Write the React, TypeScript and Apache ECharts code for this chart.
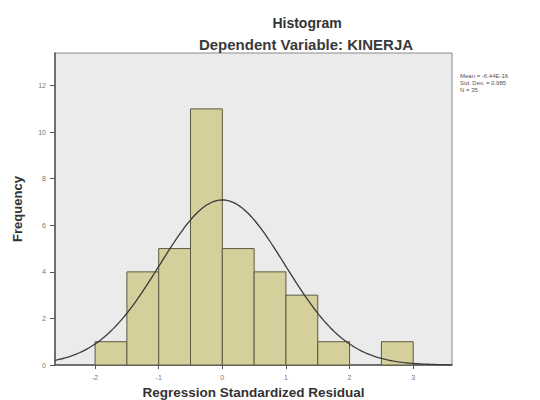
import React, { useEffect, useRef } from "react";
import * as echarts from "echarts";

const binStarts = [-2, -1.5, -1, -0.5, 0, 0.5, 1, 1.5, 2, 2.5];
const binWidth = 0.5;
const frequencies = [1, 4, 5, 11, 5, 4, 3, 1, 0, 1];
const xTicks = [-2, -1, 0, 1, 2, 3];
const yTicks = [0, 2, 4, 6, 8, 10, 12];
const statsLines = ["Mean = -6.44E-16", "Std. Dev. = 0.985", "N = 35"];
const mean = -6.44e-16;
const stdDev = 0.985;
const n = 35;
const xMin = -2.63;
const xMax = 3.61;

export default function App() {
  const ref = useRef<HTMLDivElement>(null);
  useEffect(() => {
    if (!ref.current) return;
    const chart = echarts.init(ref.current, undefined, { renderer: "svg" });
    const bars = binStarts.map((s, i) => [s, s + binWidth, frequencies[i]]);
    const curve: number[][] = [];
    const steps = 200;
    for (let i = 0; i <= steps; i++) {
      const x = xMin + ((xMax - xMin) * i) / steps;
      const z = (x - mean) / stdDev;
      const y = ((n * binWidth) / (stdDev * Math.sqrt(2 * Math.PI))) * Math.exp(-0.5 * z * z);
      curve.push([x, y]);
    }
    const font = "Liberation Sans, Arial, sans-serif";
    chart.setOption({
      animation: false,
      backgroundColor: "#ffffff",
      title: [
        {
          text: "Histogram",
          left: 302,
          top: 11,
          textAlign: "center",
          textStyle: { fontFamily: font, fontSize: 14, fontWeight: "bold", color: "#333" },
        },
        {
          text: "Dependent Variable: KINERJA",
          left: 301,
          top: 32,
          textAlign: "center",
          textStyle: { fontFamily: font, fontSize: 15, fontWeight: "bold", color: "#3a3a3a" },
        },
      ],
      graphic: [
        {
          type: "text",
          left: 460,
          top: 72,
          style: {
            text: statsLines.join("\n"),
            fontFamily: font,
            fontSize: 6,
            lineHeight: 7,
            fill: "#555",
          },
        },
      ],
      grid: {
        left: 55,
        right: 88,
        top: 53,
        bottom: 35,
        outerBoundsMode: "none",
        containLabel: false,
        show: true,
        backgroundColor: "#ebebeb",
        borderColor: "#8a8a8a",
        borderWidth: 1,
      },
      xAxis: {
        type: "value",
        min: xMin,
        max: xMax,
        name: "Regression Standardized Residual",
        nameLocation: "middle",
        nameGap: 19,
        nameTextStyle: { fontFamily: font, fontSize: 13.5, fontWeight: "bold", color: "#333" },
        splitLine: { show: false },
        axisLine: { show: true, onZero: false, lineStyle: { color: "#555", width: 1.5 } },
        axisTick: { show: true, customValues: xTicks, length: 4, lineStyle: { color: "#555" } },
        axisLabel: {
          customValues: xTicks,
          fontFamily: font,
          fontSize: 7,
          color: "#777",
          margin: 9,
        },
      },
      yAxis: {
        type: "value",
        min: 0,
        max: 13.4,
        name: "Frequency",
        nameLocation: "middle",
        nameGap: 31,
        nameRotate: 90,
        nameTextStyle: { fontFamily: font, fontSize: 13, fontWeight: "bold", color: "#333" },
        splitLine: { show: false },
        axisLine: { show: true, onZero: false, lineStyle: { color: "#555", width: 1.5 } },
        axisTick: { show: true, customValues: yTicks, length: 5, lineStyle: { color: "#555" } },
        axisLabel: {
          customValues: yTicks,
          fontFamily: font,
          fontSize: 7,
          color: "#777",
          margin: 9,
        },
      },
      series: [
        {
          type: "custom",
          data: bars,
          encode: { x: [0, 1], y: 2 },
          renderItem: (params: any, api: any) => {
            const x0 = api.value(0);
            const x1 = api.value(1);
            const h = api.value(2);
            if (h <= 0) return null;
            const p0 = api.coord([x0, h]);
            const p1 = api.coord([x1, 0]);
            return {
              type: "rect",
              shape: { x: p0[0], y: p0[1], width: p1[0] - p0[0], height: p1[1] - p0[1] },
              style: { fill: "#d5d09b", stroke: "#5a5940", lineWidth: 1 },
            };
          },
          z: 2,
        },
        {
          type: "line",
          data: curve,
          showSymbol: false,
          symbol: "none",
          lineStyle: { color: "#3a3a3a", width: 1.3 },
          z: 3,
        },
      ],
    });
    return () => chart.dispose();
  }, []);
  return (
    <div
      ref={ref}
      style={{ position: "absolute", left: 0, top: 0, width: 540, height: 400 }}
    />
  );
}
